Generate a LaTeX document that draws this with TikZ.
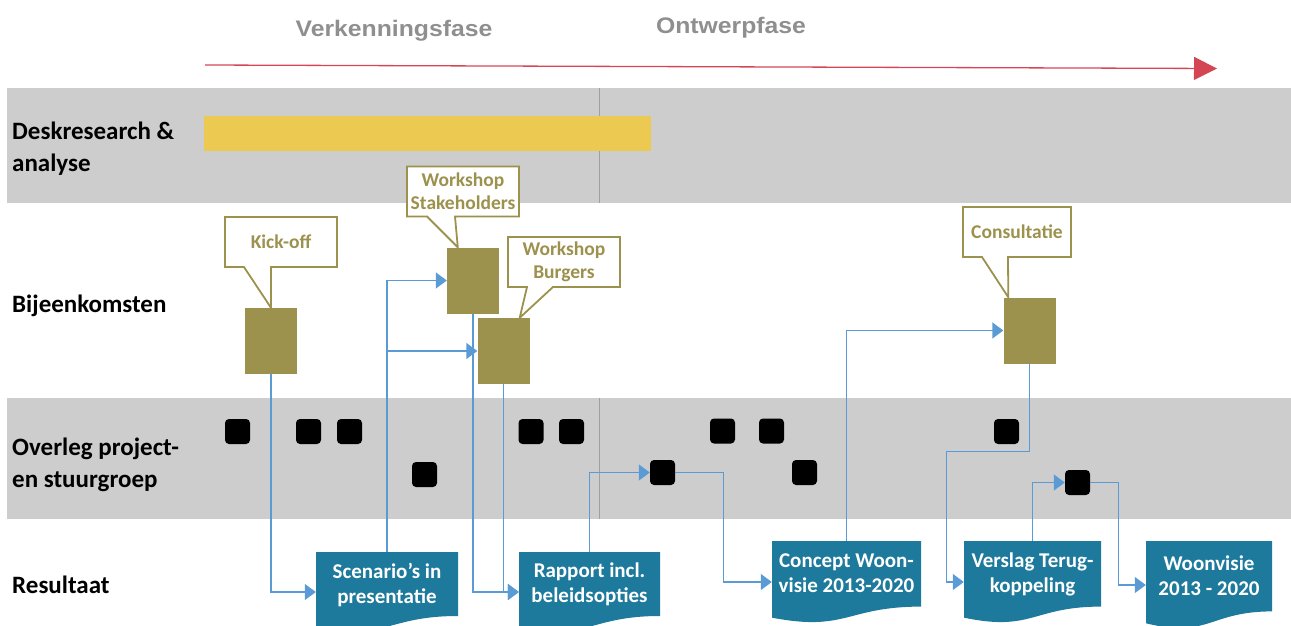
\documentclass[tikz,border=0pt]{standalone}
\usepackage{fontspec}
\setmainfont{Carlito}
\newfontfamily\phasefont[FakeStretch=1.1]{Liberation Sans}
\usetikzlibrary{arrows.meta, calc}

\definecolor{bandgray}{RGB}{205,205,205}
\definecolor{dividergray}{RGB}{160,160,160}
\definecolor{deskyellow}{RGB}{236,202,82}
\definecolor{meetingolive}{RGB}{156,145,77}
\definecolor{docblue}{RGB}{30,122,156}
\definecolor{flowblue}{RGB}{91,155,213}
\definecolor{phasered}{RGB}{212,70,84}
\definecolor{phasegray}{RGB}{143,143,143}

\tikzset{
    band/.style={fill=bandgray, draw=none}, % grey rows
    divider/.style={draw=dividergray, line width=1pt}, % border between the two phases
    rowlabel/.style={anchor=west, align=left, inner sep=0pt, font=\fontsize{25}{32}\selectfont\bfseries},
    phase/.style={text=phasegray, font=\phasefont\fontsize{22.5}{27}\selectfont\bfseries},
    timeline/.style={draw=phasered, line width=1.3pt, -{Triangle[length=23pt, width=23pt]}},
    meeting/.style={fill=meetingolive, minimum width=52pt, minimum height=66pt, inner sep=0pt},
    bubble/.style={fill=white, text=meetingolive, align=center, font=\fontsize{19.5}{23}\selectfont\bfseries,
        minimum width=112pt, minimum height=50pt, inner sep=0pt, outer sep=0pt},
    bubbleline/.style={draw=meetingolive, line width=1.8pt, line join=miter},
    overleg/.style={fill=black, rounded corners=4pt, minimum size=25pt, inner sep=0pt},
    result/.style={text=white, align=center, font=\fontsize{21}{25}\selectfont\bfseries,
        inner sep=0pt, text depth=18pt,
        path picture={
            \fill[docblue] (path picture bounding box.north west) -- (path picture bounding box.north east)
                -- ($(path picture bounding box.north east)!0.8!(path picture bounding box.south east)$)
                .. controls ($(path picture bounding box.north)!0.8!(path picture bounding box.south)$)
                and ($(path picture bounding box.north)!1.11!(path picture bounding box.south)$)
                .. ($(path picture bounding box.north west)!0.935!(path picture bounding box.south west)$) -- cycle;
        }}, % document shape with a wavy bottom
    flow/.style={draw=flowblue, line width=1.4pt, -{Triangle[length=11pt, width=16pt]}},
}

\begin{document}
\begin{tikzpicture}[x=1pt, y=-1pt]
\useasboundingbox (0,0) rectangle (1291,626);

% rows
\fill[band] (7,88) rectangle (1291,203);
\fill[band] (7,398) rectangle (1291,519);
\draw[divider] (599.5,88) -- (599.5,203);
\draw[divider] (599.5,398) -- (599.5,519);
\fill[deskyellow] (204,116) rectangle (651,151);

% phases
\node[phase] (verk) at (394,31) {Verkenningsfase};
\node[phase] (ontw) at (731,28) {Ontwerpfase};
\coordinate (tstart) at (205,65);
\coordinate (tend) at (1217,68.5);
\draw[timeline] (tstart) -- (tend);

\node[rowlabel] (desk) at (12,149) {Deskresearch \&\\analyse};
\node[rowlabel] (bijeen) at (12,306) {Bijeenkomsten};
\node[rowlabel] (overleg) at (12,465) {Overleg project-\\en stuurgroep};
\node[rowlabel] (resultaat) at (12,584.5) {Resultaat};

% meetings
\node[meeting] (kickoff) at (271,341) {};
\node[meeting] (stake) at (473,280.5) {};
\node[meeting] (burg) at (503.5,351) {};
\node[meeting] (consult) at (1029.5,330.5) {};

\node[bubble] (ko) at (281,242) {Kick-off};
\node[bubble] (sh) at (463,191.5) {Workshop\\Stakeholders};
\node[bubble] (bg) at (564,262) {Workshop\\Burgers};
\node[bubble, minimum width=108pt] (cs) at (1017,232) {Consultatie};
\draw[bubbleline] (ko.south west) -- (ko.north west) -- (ko.north east) -- (ko.south east)
    -- ($(ko.south west)+(46,0)$) -- (kickoff.north) -- ($(ko.south west)+(19,0)$) -- cycle;
\draw[bubbleline] (sh.south west) -- (sh.north west) -- (sh.north east) -- (sh.south east)
    -- ($(sh.south west)+(48,0)$) -- ($(stake.north west)+(11,0)$) -- ($(sh.south west)+(20,0)$) -- cycle;
\draw[bubbleline] (bg.south west) -- (bg.north west) -- (bg.north east) -- (bg.south east)
    -- ($(bg.south west)+(45,0)$) -- ($(burg.north east)+(-10,0)$) -- ($(bg.south west)+(19,0)$) -- cycle;
\draw[bubbleline] (cs.south west) -- (cs.north west) -- (cs.north east) -- (cs.south east)
    -- ($(cs.south west)+(45,0)$) -- ($(consult.north west)+(5,0)$) -- ($(cs.south west)+(19,0)$) -- cycle;

% project- en stuurgroep
\foreach \x/\y [count=\i] in {237.5/431.5, 308.5/431.5, 349.5/431.5, 424.5/474.5, 531/431.5, 571.5/431.5,
    662.5/472.5, 722.5/431, 771.5/431, 804.5/472.5, 1006.5/431.5, 1077.5/482.5}
    \node[overleg] (o\i) at (\x,\y) {};

% results
\node[result, minimum width=142pt, minimum height=80pt] (scen) at (387,592) {Scenario’s in\\presentatie};
\node[result, minimum width=141pt, minimum height=80pt] (rapport) at (589.5,592) {Rapport incl.\\beleidsopties};
\node[result, minimum width=149pt, minimum height=82pt] (concept) at (846.5,582) {Concept Woon-\\visie 2013-2020};
\node[result, minimum width=137pt, minimum height=82pt] (verslag) at (1032.5,582) {Verslag Terug-\\koppeling};
\node[result, minimum width=126pt, minimum height=88pt] (woon) at (1209,585) {Woonvisie\\2013 - 2020};

% connectors
\draw[flow] (kickoff.south) |- (scen.west);
\draw[flow] (scen.north) |- (stake.west);
\draw[flow] (scen.north) |- (burg.west);
\draw[flow] (stake.south) |- (rapport.west);
\draw[flow] (burg.south) |- (rapport.west);
\draw[flow] (rapport.north) |- (o7.west);
\draw[flow] (o7.east) -- ++(48,0) |- (concept.west);
\draw[flow] (concept.north) |- (consult.west);
\draw[flow] (consult.south) -- ++(0,88) -- ++(-83,0) |- (verslag.west);
\draw[flow] (verslag.north) |- (o12.west);
\draw[flow] (o12.east) -- ++(28,0) |- (woon.west);
\end{tikzpicture}
\end{document}
